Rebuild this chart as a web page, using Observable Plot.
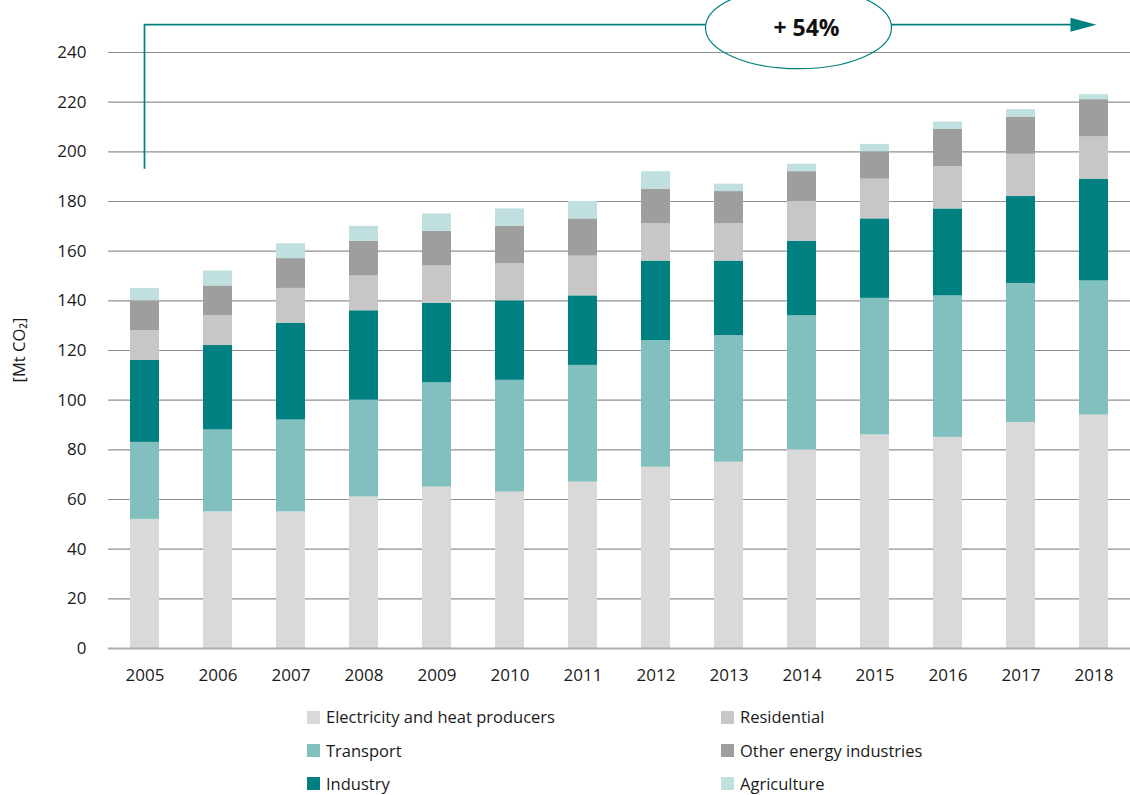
<!DOCTYPE html>
<html>
<head>
<meta charset="utf-8">
<script src="https://cdn.jsdelivr.net/npm/d3@7"></script>
<script src="https://cdn.jsdelivr.net/npm/@observablehq/plot@0.6"></script>
<style>
  body { margin: 0; background: #fff; font-family: "Open Sans", sans-serif; }
  #wrap { position: relative; width: 1130px; height: 795px; overflow: hidden; }
  #wrap svg { display: block; }
  .item { position: absolute; display: flex; align-items: center; font-size: 16.5px; color: #1a1a1a; white-space: nowrap; height: 20px; line-height: 20px; }
  .sw { width: 13px; height: 13px; margin-right: 6px; flex: none; }
</style>
</head>
<body>
<div id="wrap"></div>
<script>
// ---- data ----
const years = ["2005","2006","2007","2008","2009","2010","2011","2012","2013","2014","2015","2016","2017","2018"];
const electricity = [52, 55, 55, 61, 65, 63, 67, 73, 75, 80, 86, 85, 91, 94];
const transport   = [31, 33, 37, 39, 42, 45, 47, 51, 51, 54, 55, 57, 56, 54];
const industry    = [33, 34, 39, 36, 32, 32, 28, 32, 30, 30, 32, 35, 35, 41];
const residential = [12, 12, 14, 14, 15, 15, 16, 15, 15, 16, 16, 17, 17, 17];
const otherEnergy = [12, 12, 12, 14, 14, 15, 15, 14, 13, 12, 11, 15, 15, 15];
const agriculture = [ 5,  6,  6,  6,  7,  7,  7,  7,  3,  3,  3,  3,  3,  2];
const seriesNames = ["Electricity and heat producers","Transport","Industry","Residential","Other energy industries","Agriculture"];
const seriesValues = [electricity, transport, industry, residential, otherEnergy, agriculture];
const seriesColors = ["#d9d9d9","#82bfbf","#008080","#c6c7c6","#9d9e9d","#bfe0df"];
const legendOrder = ["Electricity and heat producers","Residential","Transport","Other energy industries","Industry","Agriculture"];
const yTicks = [0,20,40,60,80,100,120,140,160,180,200,220,240];
const yLabel = "[Mt CO\u2082]";
const growthLabel = "+ 54%";
const arrowFrom = 193;   // value where the growth arrow starts (2005)
const arrowLevel = 251;  // value of the horizontal arrow line

const rows = [];
seriesNames.forEach((s, i) => years.forEach((y, j) => rows.push({year: y, series: s, value: seriesValues[i][j]})));

const W = 1130, H = 700, ML = 108, MR = 0, MT = 52, MB = 52;
const teal = "#008080";

const plot = Plot.plot({
  width: W, height: H,
  marginLeft: ML, marginRight: MR, marginTop: MT, marginBottom: MB,
  style: {fontFamily: "'Open Sans', sans-serif", fontSize: "17px", color: "#1a1a1a", background: "#fff", overflow: "visible"},
  x: {type: "band", domain: years, paddingInner: 0.6, paddingOuter: 0.29, label: null},
  y: {domain: [0, 240], ticks: yTicks, label: null},
  color: {domain: seriesNames, range: seriesColors},
  marks: [
    Plot.ruleY(yTicks.filter(d => d > 0), {stroke: "#8f8f8f", strokeWidth: 1.2}),
    Plot.axisY({ticks: yTicks, tickSize: 0, tickPadding: 22, label: null, fontSize: 17}),
    Plot.axisX({tickSize: 0, tickPadding: 20, label: null, fontSize: 17}),
    Plot.barY(rows, {x: "year", y: "value", fill: "series", order: seriesNames}),
    Plot.ruleY([0], {stroke: "#ababab", strokeWidth: 2})
  ]
});

// scales (from plot, with fallback)
let xs, ys, bw;
try {
  const sx = plot.scale("x"), sy = plot.scale("y");
  xs = v => sx.apply(v); ys = v => sy.apply(v); bw = sx.bandwidth;
  if (!isFinite(xs("2005"))) throw 0;
} catch (e) {
  const bx = d3.scaleBand(years, [ML, W - MR]).paddingInner(0.6).paddingOuter(0.29);
  const ly = d3.scaleLinear([0, 240], [H - MB, MT]);
  xs = v => bx(v); ys = v => ly(v); bw = bx.bandwidth();
}

const svg = d3.select(plot);
const g = svg.append("g");
const x0 = xs("2005") + bw / 2;
const xEnd = xs("2018") + bw / 2 + 3;
const yTop = ys(arrowLevel);
const cx = xs("2014") + bw / 2 - 3, cy = yTop + 3, rx = 93, ry = 41;

// arrow: vertical from 2005, horizontal across, broken by the ellipse
g.append("path")
  .attr("d", `M${x0},${ys(arrowFrom)} L${x0},${yTop} L${cx - rx},${yTop}`)
  .attr("fill", "none").attr("stroke", teal).attr("stroke-width", 1.7);
g.append("path")
  .attr("d", `M${cx + rx},${yTop} L${xEnd - 24},${yTop}`)
  .attr("fill", "none").attr("stroke", teal).attr("stroke-width", 1.7);
g.append("path")
  .attr("d", `M${xEnd - 26},${yTop - 7} L${xEnd},${yTop} L${xEnd - 26},${yTop + 7} Z`)
  .attr("fill", teal);
g.append("ellipse")
  .attr("cx", cx).attr("cy", cy).attr("rx", rx).attr("ry", ry)
  .attr("fill", "none").attr("stroke", teal).attr("stroke-width", 1.2);
g.append("text")
  .attr("x", cx + 8).attr("y", cy)
  .attr("dy", "0.35em").attr("text-anchor", "middle")
  .attr("font-size", 23).attr("font-weight", "bold").attr("fill", "#111")
  .text(growthLabel);

// y axis title
g.append("text")
  .attr("transform", `translate(19,${(ys(0) + ys(240)) / 2}) rotate(-90)`)
  .attr("dy", "0.35em").attr("text-anchor", "middle")
  .attr("font-size", 16.5).attr("fill", "#1a1a1a")
  .text(yLabel);

const wrap = document.getElementById("wrap");
wrap.appendChild(plot);

// legend (HTML below the svg)
const colorOf = Object.fromEntries(seriesNames.map((s, i) => [s, seriesColors[i]]));
const colLeft = [307, 721];
const rowTop = [707, 740.5, 773.5];
legendOrder.forEach((s, i) => {
  const d = document.createElement("div");
  d.className = "item";
  d.style.left = colLeft[i % 2] + "px";
  d.style.top = rowTop[Math.floor(i / 2)] + "px";
  d.innerHTML = `<span class="sw" style="background:${colorOf[s]}"></span><span>${s}</span>`;
  wrap.appendChild(d);
});
</script>
</body>
</html>
